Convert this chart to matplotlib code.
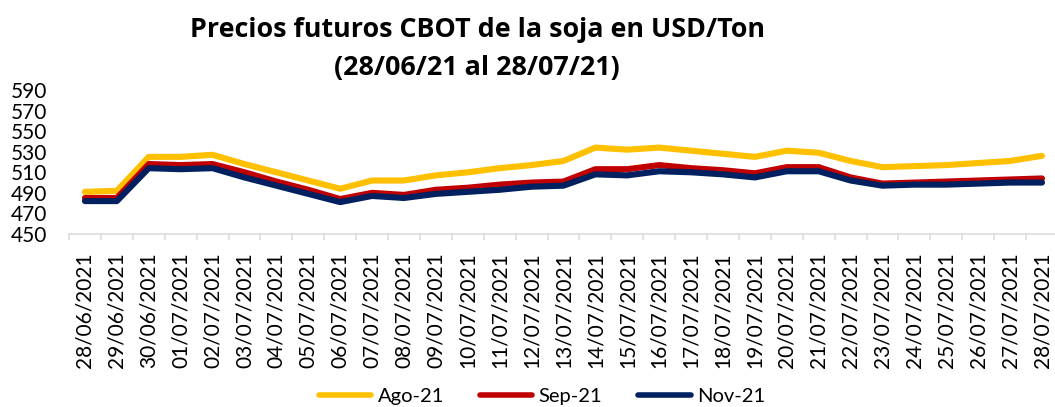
import numpy as np
import matplotlib
matplotlib.use("Agg")
import matplotlib.pyplot as plt

# ------------------------------------------------------------
# Datos: precios futuros CBOT de la soja (USD/Ton)
# ------------------------------------------------------------

fechas = [
    "28/06/2021", "29/06/2021", "30/06/2021", "01/07/2021", "02/07/2021",
    "03/07/2021", "04/07/2021", "05/07/2021", "06/07/2021", "07/07/2021",
    "08/07/2021", "09/07/2021", "10/07/2021", "11/07/2021", "12/07/2021",
    "13/07/2021", "14/07/2021", "15/07/2021", "16/07/2021", "17/07/2021",
    "18/07/2021", "19/07/2021", "20/07/2021", "21/07/2021", "22/07/2021",
    "23/07/2021", "24/07/2021", "25/07/2021", "26/07/2021", "27/07/2021",
    "28/07/2021",
]

ago_21 = [491, 492, 525, 525, 527, 518, 510, 502, 494, 502,
          502, 507, 510, 514, 517, 521, 534, 532, 534, 531,
          528, 525, 531, 529, 521, 515, 516, 517, 519, 521, 526]

sep_21 = [485, 485, 518, 517, 518, 510, 501, 493, 484, 490,
          488, 493, 495, 498, 500, 501, 513, 513, 517, 514,
          512, 509, 515, 515, 505, 499, 500, 501, 502, 503, 504]

nov_21 = [482, 482, 514, 513, 514, 505, 497, 489, 481, 487,
          485, 489, 491, 493, 496, 497, 508, 507, 511, 510,
          508, 505, 511, 511, 502, 497, 498, 498, 499, 500, 500]

series = [("Ago-21", ago_21, "#FFC000"),
          ("Sep-21", sep_21, "#C00000"),
          ("Nov-21", nov_21, "#002060")]

FUENTE = ["Lato", "DejaVu Sans"]
FUENTE_TITULO = ["Open Sans", "DejaVu Sans"]
GRIS = "#d9d9d9"

# ------------------------------------------------------------
# Figura
# ------------------------------------------------------------

fig = plt.figure(figsize=(10.55, 4.07), dpi=100)
ax = fig.add_axes([0.0654, 1 - 234 / 407, 0.9374, 144 / 407])

x = np.arange(len(fechas))
for nombre, valores, color in series:
    ax.plot(x, valores, color=color, lw=4.4, label=nombre,
            solid_capstyle="round", solid_joinstyle="round")

ax.set_xlim(-0.5, len(fechas) - 0.5)
ax.set_ylim(450, 590)
ax.set_yticks(np.arange(450, 591, 20))

ax.set_xticks(x)
ax.set_xticklabels(fechas, rotation=90, family=FUENTE, fontsize=15)
ax.set_xticks(np.arange(-0.5, len(fechas)), minor=True)
ax.tick_params(axis="x", which="major", length=0, pad=13)
ax.tick_params(axis="x", which="minor", length=4.5, width=1.1, color=GRIS)
ax.tick_params(axis="y", length=0, pad=16)
for lab in ax.get_yticklabels():
    lab.set_family(FUENTE)
    lab.set_fontsize(15)

for lado in ["top", "right", "left"]:
    ax.spines[lado].set_visible(False)
ax.spines["bottom"].set_color(GRIS)
ax.spines["bottom"].set_linewidth(1.1)

# Titulo en dos lineas
fig.text(477 / 1055, 1 - 30 / 407, "Precios futuros CBOT de la soja en USD/Ton",
         ha="center", va="center", family=FUENTE_TITULO, fontsize=19.4, fontweight="bold")
fig.text(477 / 1055, 1 - 68 / 407, "(28/06/21 al 28/07/21)",
         ha="center", va="center", family=FUENTE_TITULO, fontsize=19.4, fontweight="bold")

leg = fig.legend(loc="center", bbox_to_anchor=(542 / 1055, 1 - 396 / 407),
                 ncol=3, frameon=False, handlelength=2.6, columnspacing=1.8,
                 handletextpad=0.3, prop={"family": FUENTE, "size": 14.5})
for linea in leg.get_lines():
    linea.set_linewidth(4)

fig.savefig("out.png", dpi=100)
